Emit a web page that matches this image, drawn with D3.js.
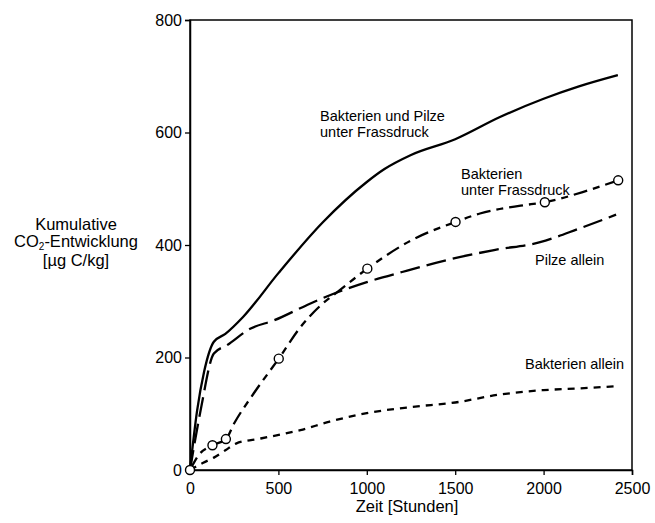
<!DOCTYPE html>
<html>
<head>
<meta charset="utf-8">
<script src="https://cdn.jsdelivr.net/npm/d3@7"></script>
<style>
html,body{margin:0;padding:0;background:#fff;}
svg{display:block;font-family:"Liberation Sans",Arial,Helvetica,sans-serif;}
</style>
</head>
<body>
<svg id="chart" width="655" height="523"></svg>
<script>
// ---- data ----
const xTicks = [0, 500, 1000, 1500, 2000, 2500];
const yTicks = [0, 200, 400, 600, 800];

const bupTime  = [0, 40, 80, 135, 200, 300, 500, 750, 1000, 1100, 1250, 1500, 1750, 2000, 2200, 2420];
const bupValue = [0, 105, 175, 228, 242, 272, 350, 440, 512, 535, 560, 588, 627, 660, 682, 702];

const pilzeTime  = [0, 60, 135, 210, 340, 475, 660, 770, 1000, 1200, 1450, 1720, 1980, 2200, 2410];
const pilzeValue = [0, 106, 207, 222, 251, 266, 293, 308, 334, 352, 373, 391, 405, 429, 454];

const bufTime  = [0, 50, 127, 203, 250, 360, 502, 625, 740, 840, 1003, 1250, 1502, 1640, 1870, 2007, 2250, 2422];
const bufValue = [0, 27, 44, 55, 83, 136, 198, 254, 293, 318, 358, 408, 441, 456, 470, 476, 497, 515];
const bufMarkTime  = [0, 127, 203, 502, 1003, 1502, 2007, 2422];
const bufMarkValue = [0, 44, 55, 198, 358, 441, 476, 515];

const bakTime  = [0, 75, 135, 200, 260, 400, 625, 790, 1000, 1250, 1500, 1750, 2000, 2200, 2410];
const bakValue = [0, 13, 22, 35, 47, 56, 71, 86, 101, 112, 120, 134, 142, 145, 149];

const labels = [
  {lines: ["Bakterien und Pilze", "unter Frassdruck"], x: 320, y: 121},
  {lines: ["Bakterien", "unter Frassdruck"], x: 461, y: 179},
  {lines: ["Pilze allein"], x: 535, y: 265},
  {lines: ["Bakterien allein"], x: 525, y: 369}
];

// ---- chart ----
const svg = d3.select("#chart");
const mL = 190, mR = 632, mT = 20, mB = 470;
const x = d3.scaleLinear().domain([0, 2500]).range([mL, mR]);
const y = d3.scaleLinear().domain([0, 800]).range([mB, mT]);

// frame
svg.append("rect").attr("x", mL).attr("y", mT)
  .attr("width", mR - mL).attr("height", mB - mT)
  .attr("fill", "none").attr("stroke", "#000").attr("stroke-width", 1.5);

const xAxis = svg.append("g").attr("transform", `translate(0,${mB})`)
  .call(d3.axisBottom(x).tickValues(xTicks).tickSize(5).tickPadding(8).tickFormat(d3.format("d")));
const yAxis = svg.append("g").attr("transform", `translate(${mL},0)`)
  .call(d3.axisLeft(y).tickValues(yTicks).tickSize(5).tickPadding(3).tickFormat(d3.format("d")));
[xAxis, yAxis].forEach(a => {
  a.select(".domain").attr("stroke-width", 1.5);
  a.selectAll(".tick line").attr("stroke-width", 1.3);
  a.selectAll("text").attr("font-size", 16).attr("font-family", '"Liberation Sans",Arial,sans-serif').attr("fill", "#000");
});

const line = d3.line().x(d => x(d[0])).y(d => y(d[1])).curve(d3.curveMonotoneX);
const zip = (a, b) => a.map((v, i) => [v, b[i]]);

function drawSeries(t, v, dash) {
  svg.append("path").datum(zip(t, v))
    .attr("d", line).attr("fill", "none").attr("stroke", "#000")
    .attr("stroke-width", 2.3).attr("stroke-linecap", "butt")
    .attr("stroke-dasharray", dash);
}
drawSeries(bupTime, bupValue, null);
drawSeries(pilzeTime, pilzeValue, "20,7");
drawSeries(bufTime, bufValue, "14,6,7,6");
drawSeries(bakTime, bakValue, "7,6");

svg.append("g").selectAll("circle").data(zip(bufMarkTime, bufMarkValue)).join("circle")
  .attr("cx", d => x(d[0])).attr("cy", d => y(d[1])).attr("r", 4.5)
  .attr("fill", "#fff").attr("stroke", "#000").attr("stroke-width", 1.4);

// annotations
labels.forEach(l => {
  const t = svg.append("text").attr("x", l.x).attr("y", l.y).attr("font-size", 14.5);
  l.lines.forEach((s, i) => t.append("tspan").attr("x", l.x).attr("dy", i === 0 ? 0 : 16).text(s));
});

// axis titles
const yt = svg.append("text").attr("text-anchor", "middle").attr("font-size", 16.5);
yt.append("tspan").attr("x", 76).attr("y", 230).text("Kumulative");
const co = yt.append("tspan").attr("x", 76).attr("y", 247);
co.append("tspan").text("CO");
co.append("tspan").attr("font-size", 10).attr("dy", 3).text("2");
co.append("tspan").attr("dy", -3).text("-Entwicklung");
yt.append("tspan").attr("x", 76).attr("y", 266).text("[µg C/kg]");

svg.append("text").attr("x", 407).attr("y", 512).attr("text-anchor", "middle")
  .attr("font-size", 16.5).text("Zeit [Stunden]");
</script>
</body>
</html>
